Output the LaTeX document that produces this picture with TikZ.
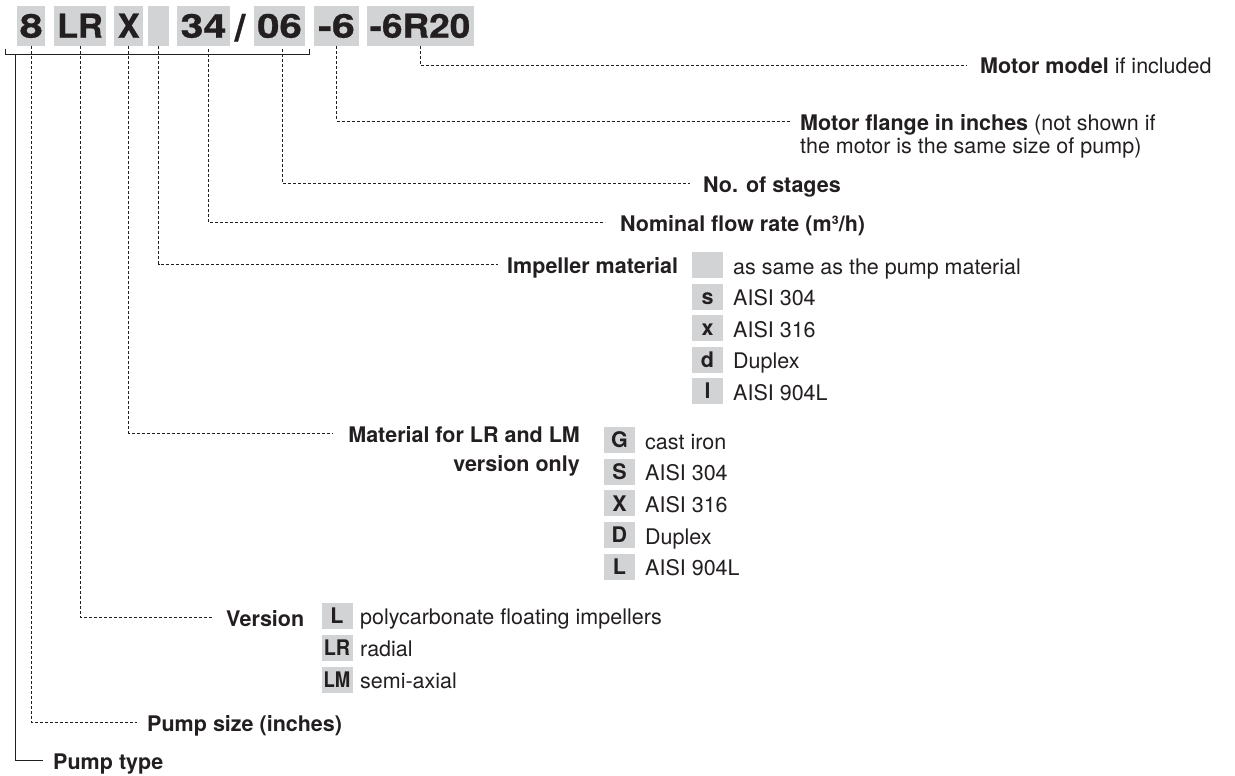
\documentclass[tikz,border=0pt]{standalone}
\usepackage{fontspec}
\setmainfont{TeX Gyre Heros}
\newfontfamily\heavyfam[FakeBold=0.7]{texgyreheros-bold.otf}
\definecolor{ink}{HTML}{231F20}
\definecolor{boxgray}{HTML}{D1D3D4}
\newcommand{\codefnt}{\fontsize{33}{40}\selectfont\heavyfam}
\newcommand{\lblfnt}{\fontsize{21.5}{26}\selectfont}
\newcommand{\sx}[2]{\scalebox{#1}[1]{#2}}
\tikzset{
  codebox/.style={fill=boxgray, minimum height=40, inner sep=0, text=ink, font=\codefnt, text height=23.5, text depth=0},
  lbl/.style={inner sep=0, text height=18, text depth=0, anchor=west, text=ink, font=\lblfnt},
  blbl/.style={lbl, font=\lblfnt\bfseries},
  optbox/.style={fill=boxgray, minimum width=31, minimum height=26, inner sep=0, text=ink, font=\lblfnt\bfseries, text height=15.5, text depth=0},
  dline/.style={draw=ink, line width=0.9pt, dash pattern=on 3pt off 2pt},
  sline/.style={draw=ink, line width=0.9pt}
}
\begin{document}
\begin{tikzpicture}[x=1pt,y=-1pt]
\useasboundingbox (0,0) rectangle (1235,776);
% code boxes
\node[codebox, minimum width=28] (c8) at (31.2,26) {\sx{1.25}{8}};
\node[codebox, minimum width=52] (cLR) at (80,26) {\sx{1.04}{LR}};
\node[codebox, minimum width=29] (cX) at (128.7,26) {X};
\node[codebox, minimum width=21] (cE) at (158.5,26) {};
\node[codebox, minimum width=53] (c34) at (203.5,26) {\sx{1.25}{34}};
\node[inner sep=0, text=ink, font=\codefnt, anchor=base] (slash) at (240,41) {\scalebox{1.15}[1.15]{/}};
\node[codebox, minimum width=51] (c06) at (279.5,26) {\sx{1.22}{06}};
\node[codebox, minimum width=45] (cM6) at (336.5,26) {\sx{1.25}{-6}};
\node[codebox, minimum width=107] (cMR) at (420,26) {\sx{1.12}{-6R20}};
% bracket
\draw[sline] (5,49) |- (309,54) -- (309,49);
\coordinate (ptop) at (15,54);
\coordinate (t34) at (208,49);
\coordinate (t06) at (282,49);
% labels
\node[lbl] (model) at (980,65) {\textbf{Motor model} if included};
\node[lbl] (flange) at (800,121) {\textbf{Motor flange in inches} (not shown if};
\node[lbl] (flange2) at (800,144) {the motor is the same size of pump)};
\node[blbl] (stages) at (703,183) {No. of stages};
\node[blbl] (nominal) at (620,222) {Nominal flow rate (m³/h)};
\node[blbl] (imp) at (507,264) {Impeller material};
\node[blbl, anchor=east] (mat1) at (580,433) {Material for LR and LM};
\node[blbl, anchor=east] (mat2) at (580,462) {version only};
\node[blbl] (version) at (226,617) {Version};
\node[blbl] (psize) at (147,722) {Pump size (inches)};
\node[blbl] (ptype) at (53,760) {Pump type};
% impeller options
\node[optbox] (i0) at (707.5,265) {};
\node[optbox] (i1) at (707.5,296.5) {s};
\node[optbox] (i2) at (707.5,328) {x};
\node[optbox] (i3) at (707.5,359.5) {d};
\node[optbox] (i4) at (707.5,391) {l};
\node[lbl] (ti0) at (733,265) {as same as the pump material};
\node[lbl] (ti1) at (733,296.5) {AISI 304};
\node[lbl] (ti2) at (733,328) {AISI 316};
\node[lbl] (ti3) at (733,359.5) {Duplex};
\node[lbl] (ti4) at (733,391) {AISI 904L};
% material options
\node[optbox] (m0) at (619.5,440) {G};
\node[optbox] (m1) at (619.5,471.7) {S};
\node[optbox] (m2) at (619.5,503.4) {X};
\node[optbox] (m3) at (619.5,535) {D};
\node[optbox] (m4) at (619.5,566.7) {L};
\node[lbl] (tm0) at (645,440) {cast iron};
\node[lbl] (tm1) at (645,471.7) {AISI 304};
\node[lbl] (tm2) at (645,503.4) {AISI 316};
\node[lbl] (tm3) at (645,535) {Duplex};
\node[lbl] (tm4) at (645,566.7) {AISI 904L};
% version options
\node[optbox] (v0) at (337,615.5) {L};
\node[optbox] (v1) at (337,647.5) {\sx{0.92}{LR}};
\node[optbox] (v2) at (337,679.5) {\sx{0.86}{LM}};
\node[lbl] (tv0) at (360,615.5) {polycarbonate floating impellers};
\node[lbl] (tv1) at (360,647.5) {radial};
\node[lbl] (tv2) at (360,679.5) {semi-axial};
% connectors
\draw[dline] (cMR.south) |- ([xshift=-13]model.west);
\draw[dline] (cM6.south) |- ([xshift=-10]flange.west);
\draw[dline] (t06) |- ([xshift=-13]stages.west);
\draw[dline] (t34) |- ([xshift=-15]nominal.west);
\draw[dline] (cE.south) |- ([xshift=-9]imp.west);
\draw[dline] (cX.south) |- ([xshift=-15]mat1.west);
\draw[dline] (cLR.south) |- ([xshift=-13]version.west);
\draw[dline] (c8.south) |- ([xshift=-10]psize.west);
\draw[sline] (ptop) |- ([xshift=-10]ptype.west);
\end{tikzpicture}
\end{document}
